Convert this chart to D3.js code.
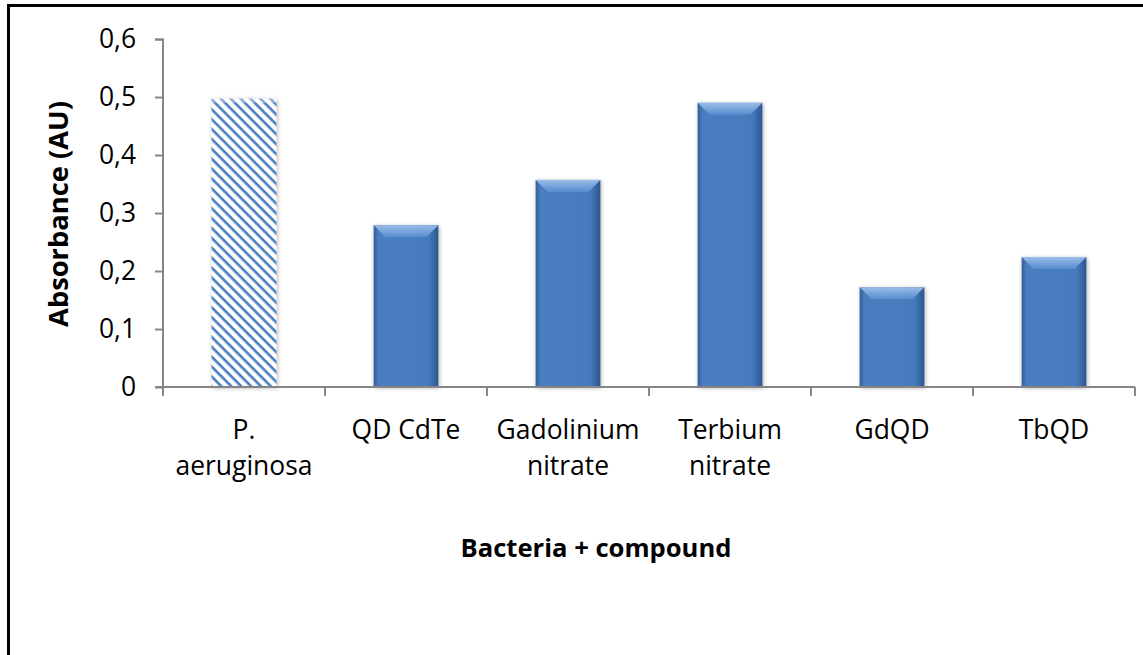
<!DOCTYPE html>
<html>
<head>
<meta charset="utf-8">
<script src="https://cdn.jsdelivr.net/npm/d3@7"></script>
<style>
body{margin:0;background:#fff;}
svg{display:block;}
</style>
</head>
<body>
<div id="chart"></div>
<script>
var categories=[["P.","aeruginosa"],["QD CdTe"],["Gadolinium","nitrate"],["Terbium","nitrate"],["GdQD"],["TbQD"]];
var values=[0.497,0.279,0.357,0.49,0.172,0.224];
var yTicks=[0,0.1,0.2,0.3,0.4,0.5,0.6];
var yTitle="Absorbance (AU)";
var xTitle="Bacteria + compound";

var W=1143,H=655;
var FONT="'Open Sans', 'Liberation Sans', sans-serif";
var margin={top:39,left:163};
var plotW=1135-margin.left, plotH=387-margin.top;

var svg=d3.select("#chart").append("svg").attr("width",W).attr("height",H);
var defs=svg.append("defs");

// size a font so that a sample string has the wanted width
function fitSize(str,target,bold){
    var t=svg.append("text").attr("font-family",FONT).attr("font-size",20)
        .attr("font-weight",bold?"bold":"normal").text(str);
    var w=t.node().getComputedTextLength();
    t.remove();
    return 20*target/w;
}
var labSize=fitSize("Gadolinium",143,false);
var tickSize=Math.min(labSize,fitSize("0,6",38,false));
var xtSize=fitSize(xTitle,271,true);
var ytSize=fitSize(yTitle,226,true);

// hatch pattern for the control bar
var pat=defs.append("pattern").attr("id","hatch").attr("patternUnits","userSpaceOnUse")
    .attr("width",7).attr("height",7).attr("patternTransform","rotate(45)");
pat.append("rect").attr("width",7).attr("height",7).attr("fill","#fff");
pat.append("rect").attr("x",0).attr("y",0).attr("width",7).attr("height",2.6).attr("fill","#4a7ebf");

var grad=defs.append("linearGradient").attr("id","barg").attr("x1",0).attr("x2",1).attr("y1",0).attr("y2",0);
grad.append("stop").attr("offset","0%").attr("stop-color","#365f99");
grad.append("stop").attr("offset","8%").attr("stop-color","#4a7ec0");
grad.append("stop").attr("offset","85%").attr("stop-color","#457abd");
grad.append("stop").attr("offset","100%").attr("stop-color","#2c568c");
var topg=defs.append("linearGradient").attr("id","topg").attr("x1",0).attr("x2",0).attr("y1",0).attr("y2",1);
topg.append("stop").attr("offset","0%").attr("stop-color","#a9c8ee");
topg.append("stop").attr("offset","100%").attr("stop-color","#5a8fd2");
var sh=defs.append("filter").attr("id","shadow").attr("x","-20%").attr("y","-10%").attr("width","140%").attr("height","130%");
sh.append("feDropShadow").attr("dx",1).attr("dy",1).attr("stdDeviation",2).attr("flood-color","#000").attr("flood-opacity",0.3);

// frame
svg.append("rect").attr("x",8.5).attr("y",5.5).attr("width",W+20).attr("height",H+20)
    .attr("fill","none").attr("stroke","#000").attr("stroke-width",3);

var x=d3.scaleBand().domain(d3.range(categories.length)).range([0,plotW]).paddingInner(0.6).paddingOuter(0.3);
var xb=d3.scaleBand().domain(d3.range(categories.length)).range([0,plotW]);
var y=d3.scaleLinear().domain([0,0.6]).range([plotH,0]);

var g=svg.append("g").attr("transform","translate("+margin.left+","+margin.top+")");

var bars=g.selectAll("g.bar").data(values).enter().append("g").attr("class","bar");
bars.append("rect")
    .attr("x",function(d,i){return x(i);})
    .attr("y",function(d){return y(d);})
    .attr("width",x.bandwidth())
    .attr("height",function(d){return plotH-y(d);})
    .attr("fill",function(d,i){return i==0?"url(#hatch)":"url(#barg)";})
    .attr("filter","url(#shadow)");
// bevel on top of solid bars
bars.filter(function(d,i){return i>0;}).append("path")
    .attr("d",function(d,i){
        var j=i+1, x0=x(j), x1=x0+x.bandwidth(), y0=y(d), b=12;
        return "M"+x0+","+y0+"L"+x1+","+y0+"L"+(x1-b)+","+(y0+b)+"L"+(x0+b)+","+(y0+b)+"Z";
    })
    .attr("fill","url(#topg)").attr("opacity",0.85);
bars.filter(function(d,i){return i==0;}).append("rect")
    .attr("x",function(d){return x(0);}).attr("y",function(d){return y(d);})
    .attr("width",x.bandwidth()).attr("height",4).attr("fill","#fff").attr("opacity",0.35);

// y axis
var yAxis=d3.axisLeft(y).tickValues(yTicks).tickSize(8).tickPadding(19)
    .tickFormat(function(d){return d3.format(".1f")(d).replace(".",",").replace(/^0,0$/,"0");});
var ya=g.append("g").call(yAxis);
ya.selectAll("path,line").attr("stroke","#868686").attr("stroke-width",2);
ya.select(".domain").attr("d","M-8,0.5H0V"+plotH);
ya.selectAll("text").attr("font-family",FONT).attr("font-size",tickSize).attr("fill","#000");

// x axis
var xa=g.append("g").attr("transform","translate(0,"+plotH+")");
xa.append("line").attr("x1",-8).attr("x2",plotW).attr("stroke","#868686").attr("stroke-width",2);
xa.selectAll("line.t").data(d3.range(categories.length+1)).enter().append("line").attr("class","t")
    .attr("x1",function(i){return i*xb.step();}).attr("x2",function(i){return i*xb.step();})
    .attr("y1",0).attr("y2",9).attr("stroke","#868686").attr("stroke-width",2);
var lab=xa.selectAll("text.lab").data(categories).enter().append("text").attr("class","lab")
    .attr("text-anchor","middle").attr("font-family",FONT)
    .attr("font-size",labSize).attr("fill","#000")
    .attr("transform",function(d,i){return "translate("+(xb(i)+xb.bandwidth()/2)+",52)";});
lab.selectAll("tspan").data(function(d){return d;}).enter().append("tspan")
    .attr("x",0).attr("dy",function(d,k){return k==0?0:36;}).text(function(d){return d;});

// titles
svg.append("text").attr("transform","translate(68,214) rotate(-90)").attr("text-anchor","middle")
    .attr("font-family",FONT).attr("font-weight","bold").attr("font-size",ytSize)
    .text(yTitle);
svg.append("text").attr("x",596).attr("y",557).attr("text-anchor","middle")
    .attr("font-family",FONT).attr("font-weight","bold").attr("font-size",xtSize)
    .text(xTitle);
</script>
</body>
</html>
